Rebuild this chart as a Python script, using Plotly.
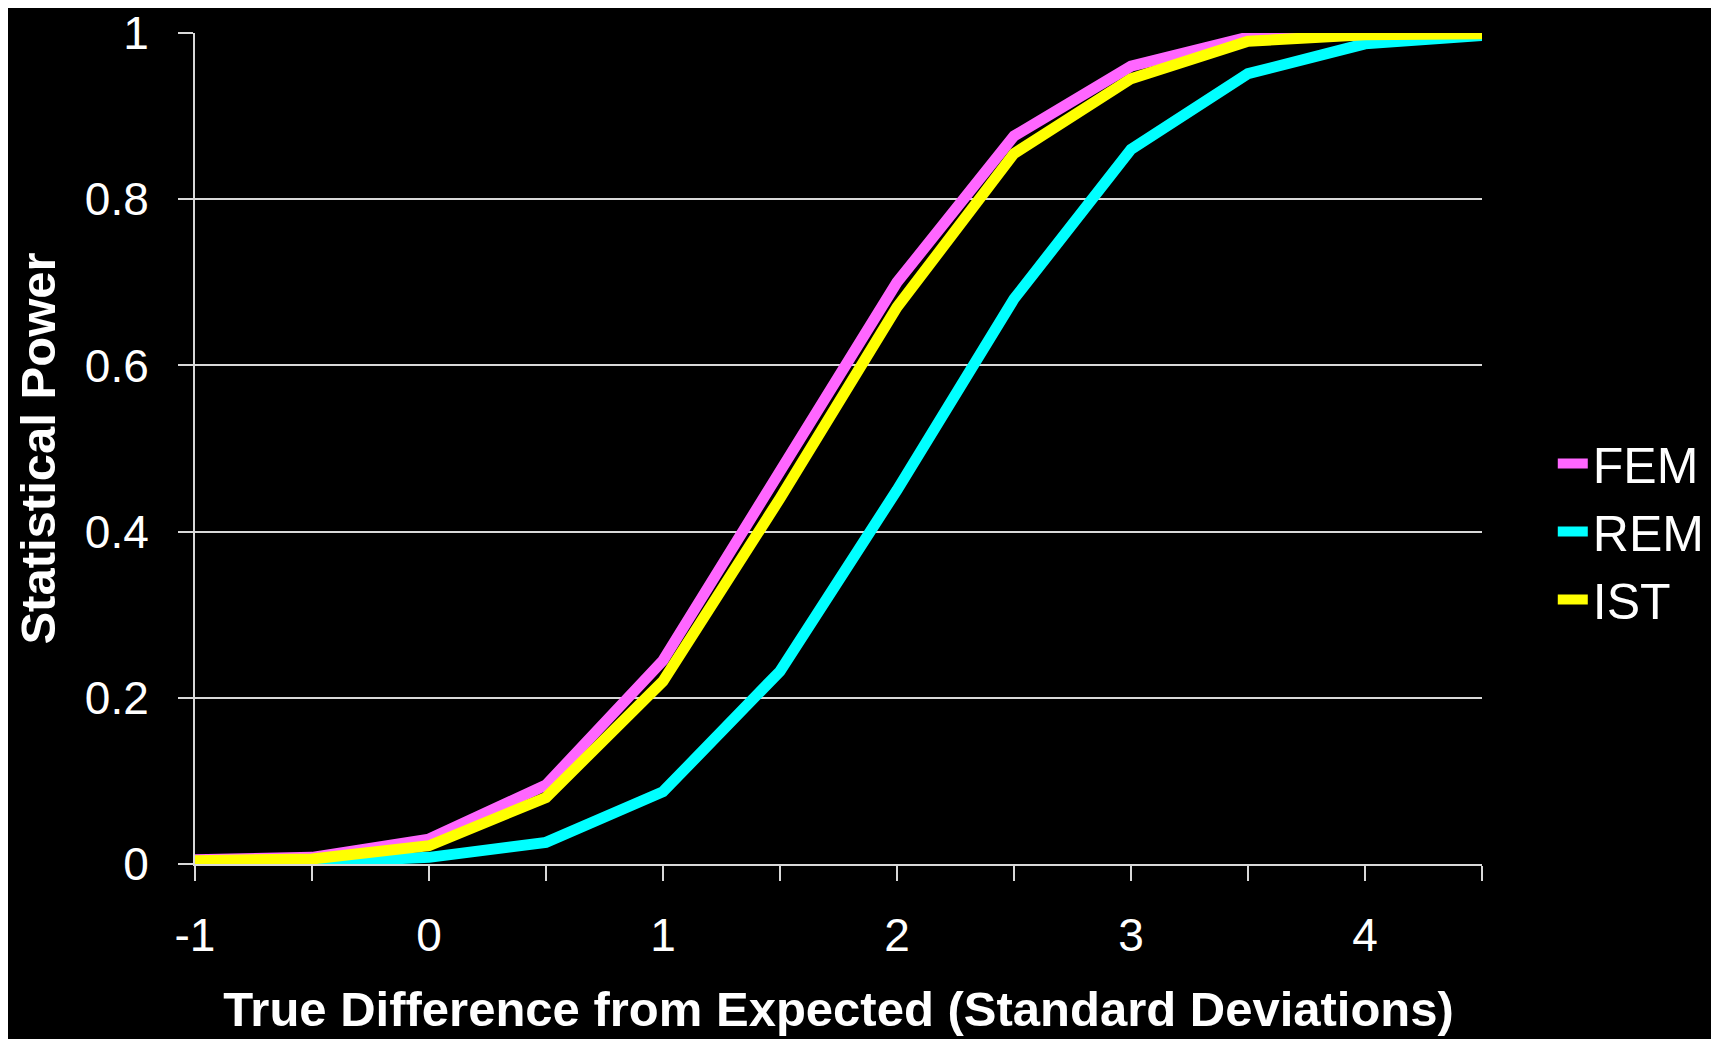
import plotly.graph_objects as go

x_vals = [-1, -0.5, 0, 0.5, 1, 1.5, 2, 2.5, 3, 3.5, 4, 4.5]
fem = [0.005, 0.008, 0.030, 0.095, 0.245, 0.470, 0.700, 0.876, 0.960, 0.995, 0.999, 1.000]
rem = [0.001, 0.002, 0.008, 0.026, 0.087, 0.232, 0.450, 0.680, 0.860, 0.951, 0.987, 0.997]
ist = [0.004, 0.006, 0.022, 0.080, 0.220, 0.440, 0.670, 0.855, 0.945, 0.990, 0.998, 0.999]

x_tickvals = [-1, -0.5, 0, 0.5, 1, 1.5, 2, 2.5, 3, 3.5, 4, 4.5]
x_ticktext = ["-1", "", "0", "", "1", "", "2", "", "3", "", "4", ""]
y_tickvals = [0, 0.2, 0.4, 0.6, 0.8, 1]
y_ticktext = ["0", "0.2", "0.4", "0.6", "0.8", "1"]

series = [("FEM", fem, "#FF66FF"), ("REM", rem, "#00FFFF"), ("IST", ist, "#FFFF00")]

fig = go.Figure()
for name, vals, color in series:
    fig.add_trace(go.Scatter(x=x_vals, y=vals, mode="lines", name=name,
                             line=dict(color=color, width=11)))

font_family = "Liberation Sans, Arial, sans-serif"
axis_color = "#D9D9D9"

fig.update_layout(
    width=1719, height=1039,
    paper_bgcolor="black", plot_bgcolor="black",
    margin=dict(l=187, r=245, t=25, b=183),
    font=dict(family=font_family, color="white", size=46),
    showlegend=True,
    legend=dict(x=1.055, xanchor="left", y=0.4, yanchor="middle",
                font=dict(size=50, color="white"),
                bgcolor="rgba(0,0,0,0)", itemwidth=30, tracegroupgap=0),
    xaxis=dict(range=[-1, 4.5], tickvals=x_tickvals, ticktext=x_ticktext,
               automargin=False,
               showgrid=False, zeroline=False,
               showline=True, linecolor=axis_color, linewidth=2,
               ticks="outside", ticklen=15, tickwidth=2, tickcolor=axis_color,
               ticklabelstandoff=15, ticklabeloverflow="allow",
               tickfont=dict(size=46, color="white"),
               title=dict(text="<b>True Difference from Expected (Standard Deviations)</b>",
                          font=dict(size=49, color="white"), standoff=31)),
    yaxis=dict(range=[0, 1], tickvals=y_tickvals, ticktext=y_ticktext,
               automargin=False,
               showgrid=True, gridcolor=axis_color, gridwidth=2, zeroline=False,
               showline=True, linecolor=axis_color, linewidth=2,
               ticks="outside", ticklen=15, tickwidth=2, tickcolor=axis_color,
               ticklabelstandoff=20, ticklabeloverflow="allow",
               tickfont=dict(size=46, color="white"),
               title=dict(text="<b>Statistical Power</b>",
                          font=dict(size=49, color="white"), standoff=14)),
)

fig.write_html("out.html")
